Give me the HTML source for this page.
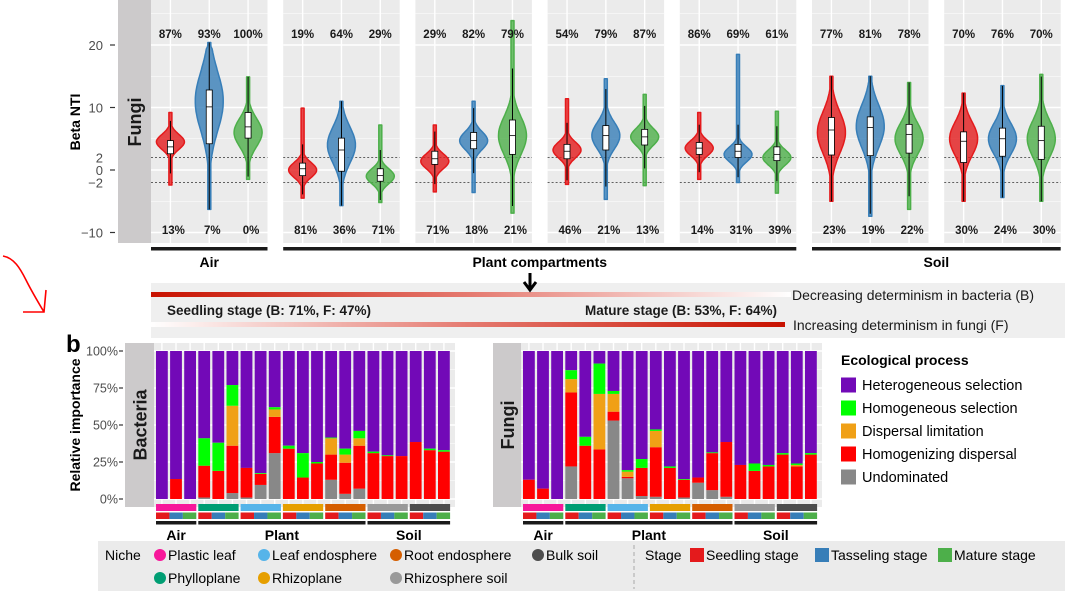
<!DOCTYPE html>
<html><head><meta charset="utf-8"><style>
html,body{margin:0;padding:0;background:#fff;}
svg{display:block;font-family:"Liberation Sans",Arial,sans-serif;}
</style></head><body>
<svg id="fig" width="1080" height="599" viewBox="0 0 1080 599" xmlns="http://www.w3.org/2000/svg">
<defs>
<linearGradient id="gDec" x1="0" x2="1" y1="0" y2="0"><stop offset="0" stop-color="#c81200"/><stop offset="0.5" stop-color="#e57a70"/><stop offset="1" stop-color="#ffffff"/></linearGradient>
<linearGradient id="gInc" x1="0" x2="1" y1="0" y2="0"><stop offset="0" stop-color="#ffffff"/><stop offset="0.5" stop-color="#e57a70"/><stop offset="1" stop-color="#c81200"/></linearGradient>
</defs>
</svg>
<script>
// ---------- Data: panel a (violins, Beta NTI) ----------
const vMin  = [-2.4,-6.3,-1.5, -4.5,-5.7,-5.2, -3.5,-3.6,-6.9, -2.3,-4.7,-2.5, -1.5,-2,-3.7, -5,-7.4,-6.3, -5,-4.4,-5];
const vMax  = [9.2,20.4,14.9, 9.9,11,7.2, 7.2,11,23.9, 11.4,14.6,12.1, 9.2,18.5,9.4, 15,15,14, 12.3,13.5,15.3];
const vQ1   = [2.6,4.2,5.1, -0.9,-0.2,-1.8, 0.9,3.4,2.5, 1.8,3.2,4, 2.5,2,1.5, 2.4,2.3,2.7, 1.2,2.2,1.7];
const vMed  = [3.7,10.1,6.9, 0.2,3.2,-0.9, 1.8,4.7,5.5, 3,5.5,5.3, 3.5,3,2.5, 6.4,6.8,5.7, 4.6,5,4.7];
const vQ3   = [4.7,12.8,9.2, 1.1,5.1,0.2, 3,6,8, 4.1,7.1,6.5, 4.4,4.1,3.7, 8.4,8.5,7.3, 6.1,6.7,7];
const vPeak = [4.5,11,6, 0,4,-1, 1.4,4.7,5.5, 3.2,5.5,5.3, 3.5,2.5,2, 6,7,5, 5,5,5];
const topPct = ["87%","93%","100%","19%","64%","29%","29%","82%","79%","54%","79%","87%","86%","69%","61%","77%","81%","78%","70%","76%","70%"];
const botPct = ["13%","7%","0%","81%","36%","71%","71%","18%","21%","46%","21%","13%","14%","31%","39%","23%","19%","22%","30%","24%","30%"];
const yTicksA = [20,10,2,0,-2,-10];
const yTickLabelsA = ["20","10","2","0","\u22122","\u221210"];

// ---------- Data: panel b (stacked bars, %) ----------
const processes = ["Heterogeneous selection","Homogeneous selection","Dispersal limitation","Homogenizing dispersal","Undominated"];
const bactGray   = [0,0,0, 1,0,4, 1,9.5,31, 0,0,0, 13,3.5,7, 0,0,0, 0,0,0];
const bactRed    = [0,13.5,0, 21.5,19,32, 20,7.5,24.5, 34,14.5,24, 17,21,29, 31,29,29, 38.5,33,32];
const bactOrange = [0,0,0, 0,0,27, 0,0,5, 0,0,0, 11,5.5,5, 0,0,0, 0,0,0];
const bactGreen  = [0,0,0, 18.5,19,14, 0,0.5,1.5, 2,16.5,1, 0.5,4,5, 1,0.5,0, 0,1,1];
const fungGray   = [0,0,0, 22,0,0, 53,14,2, 1.5,0,1, 11,6,1.5, 0,0,0, 0,0,0];
const fungRed    = [13,7,0, 50,36,33.5, 6,1,19, 33.5,21,12, 3.5,25,37, 23,19,22, 30,22,30];
const fungOrange = [0,0,0, 9,0,37.5, 12,3.5,0, 11,0,0, 0,0,0, 0,0,0, 0,1,0];
const fungGreen  = [0,0,0, 6,6,20.5, 2,1,6, 1,1,0.5, 0,0.5,0, 0,5,1, 1,1,1];
const yTicksB = [0,25,50,75,100];
const yTickLabelsB = ["0%","25%","50%","75%","100%"];
const niches = ["Plastic leaf","Phylloplane","Leaf endosphere","Rhizoplane","Root endosphere","Rhizosphere soil","Bulk soil"];
const stages = ["Seedling stage","Tasseling stage","Mature stage"];

const NS="http://www.w3.org/2000/svg";
const svg=document.getElementById('fig');
function mk(tag,attrs,parent){const e=document.createElementNS(NS,tag);for(const k in attrs)e.setAttribute(k,attrs[k]);(parent||svg).appendChild(e);return e;}
function tx(str,attrs,parent){const e=mk('text',attrs,parent);e.textContent=str;return e;}

const stageCol=["#e41a1c","#377eb8","#4daf4a"];
const nicheCol=["#f7179a","#009e73","#56b4e9","#e69f00","#d55e00","#999999","#4d4d4d"];
const procCol=["#7209b7","#00ff00","#f0a016","#ff0000","#888888"];

// ================= PANEL A =================
const gA=mk('g',{});


const yA=v=>170-v*6.25;
const PH=243;
const pW=116.5, pStep=132.2, p0=151;
const stripA=mk('rect',{x:118,y:0,width:33,height:PH,fill:'#cccacb'},gA);


const stripAT=tx('Fungi',{x:0,y:0,transform:'translate(141,122) rotate(-90)','text-anchor':'middle','font-size':18,'font-weight':'bold',fill:'#1a1a1a'},gA);


for(let i=0;i<yTicksA.length;i++){
  const y=yA(yTicksA[i]);
  const t=tx(yTickLabelsA[i],{x:103,y:y+5,'text-anchor':'end','font-size':13,fill:'#4d4d4d'},gA);
  
  
  if(yTicksA[i]%10===0){mk('line',{x1:110,x2:115,y1:y,y2:y,stroke:'#333','stroke-width':1.2},gA);}
}
const yTitleA=tx('Beta NTI',{x:0,y:0,transform:'translate(80,122) rotate(-90)','text-anchor':'middle','font-size':14,'font-weight':'bold',fill:'#000'},gA);



for(let p=0;p<7;p++){
  const px=p0+p*pStep;
  const pg=mk('g',{},gA);
  
  
  mk('rect',{x:px,y:0,width:pW,height:PH,fill:'#ebebeb'},pg);
  for(let v=-10;v<=25;v+=5){
    const y=yA(v); if(y<0||y>PH) continue;
    mk('line',{x1:px,x2:px+pW,y1:y,y2:y,stroke:'#fff','stroke-width':v%10===0?1.4:0.6},pg);
  }
  for(let k=0;k<3;k++){
    const cx=px+(k+0.5)*pW/3;
    mk('line',{x1:cx,x2:cx,y1:0,y2:PH,stroke:'#fff','stroke-width':1.4},pg);
  }
  mk('line',{x1:px,x2:px+pW,y1:yA(2),y2:yA(2),stroke:'#333','stroke-width':0.8,'stroke-dasharray':'2,2'},pg);
  mk('line',{x1:px,x2:px+pW,y1:yA(-2),y2:yA(-2),stroke:'#333','stroke-width':0.8,'stroke-dasharray':'2,2'},pg);
  for(let k=0;k<3;k++){
    const i=p*3+k, cx=px+(k+0.5)*pW/3;
    const iqr=vQ3[i]-vQ1[i], s=Math.max(iqr*0.55,1.2);
    const W=14;
    const N=80, pts=[];
    const wAt=v=>{
      let w=W*Math.exp(-0.5*Math.pow((v-vPeak[i])/s,2));
      const d=Math.min(v-vMin[i],vMax[i]-v);
      w*=Math.min(1,d/1.2+0.15);
      return Math.max(1.5,w);
    };
    for(let j=0;j<=N;j++){const v=vMin[i]+(vMax[i]-vMin[i])*j/N;pts.push([cx+wAt(v),yA(v)]);}
    for(let j=N;j>=0;j--){const v=vMin[i]+(vMax[i]-vMin[i])*j/N;pts.push([cx-wAt(v),yA(v)]);}
    const vio=mk('path',{d:'M'+pts.map(q=>q[0].toFixed(1)+','+q[1].toFixed(1)).join('L')+'Z',fill:stageCol[k],'fill-opacity':0.8,stroke:stageCol[k],'stroke-width':1.5,'stroke-linejoin':'round'},pg);
    
    
    const wLo=Math.max(vMin[i],vQ1[i]-1.5*iqr), wHi=Math.min(vMax[i],vQ3[i]+1.5*iqr);
    mk('line',{x1:cx,x2:cx,y1:yA(wHi),y2:yA(wLo),stroke:'#000','stroke-width':1},pg);
    const box=mk('rect',{x:cx-3,y:yA(vQ3[i]),width:6,height:yA(vQ1[i])-yA(vQ3[i]),fill:'#fff',stroke:'#000','stroke-width':0.8},pg);
    
    
    mk('line',{x1:cx-3,x2:cx+3,y1:yA(vMed[i]),y2:yA(vMed[i]),stroke:'#000','stroke-width':0.8},pg);
    const t1=tx(topPct[i],{x:cx,y:38,'text-anchor':'middle','font-size':11.5,'font-weight':'bold',fill:'#1a1a1a'},pg);
    
    
    const t2=tx(botPct[i],{x:cx+3,y:234,'text-anchor':'middle','font-size':11.5,'font-weight':'bold',fill:'#1a1a1a'},pg);
    
    
  }
}
const grpA=[["Air",0,0],["Plant compartments",1,4],["Soil",5,6]];
grpA.forEach(g=>{
  const x1=p0+g[1]*pStep, x2=p0+g[2]*pStep+pW;
  const b=mk('rect',{x:x1,y:247,width:x2-x1,height:3.5,fill:'#1a1a1a'},gA);
  
  
  const t=tx(g[0],{x:(x1+x2)/2,y:267,'text-anchor':'middle','font-size':14,'font-weight':'bold',fill:'#000'},gA);
  
  
});

// ================= MIDDLE BAND =================
const band=mk('g',{});


mk('rect',{x:151,y:283,width:914,height:55,fill:'#efefef'},band);
mk('rect',{x:151,y:292,width:640,height:5,fill:'url(#gDec)'},band);
mk('rect',{x:151,y:322,width:634,height:5,fill:'url(#gInc)'},band);
const s1=tx('Seedling stage (B: 71%, F: 47%)',{x:167,y:315,'font-size':13.5,'font-weight':'bold',fill:'#1a1a1a'},band);


const s2=tx('Mature stage (B: 53%, F: 64%)',{x:777,y:315,'text-anchor':'end','font-size':13.5,'font-weight':'bold',fill:'#1a1a1a'},band);


const s3=tx('Decreasing determinism in bacteria (B)',{x:792,y:300,'font-size':14,fill:'#1a1a1a'},band);


const s4=tx('Increasing determinism in fungi (F)',{x:793,y:330,'font-size':14,fill:'#1a1a1a'},band);


const arr=mk('path',{d:'M530,273 L530,288 M524,282 L530,290 L536,282',stroke:'#000','stroke-width':3,fill:'none'},band);


const redArr=mk('path',{d:'M3,256 C14,258 20,268 26,280 C32,292 38,302 44,312 M23,312 L44,312 L46,290',stroke:'#ff0000','stroke-width':1.6,fill:'none'});


const lb=tx('b',{x:66,y:352,'font-size':24,'font-weight':'bold',fill:'#000'});



// ================= PANEL B =================
const yB=p=>499-p*1.48;
const slot=14.1, barW=11.8;
function barChart(name,stripX,panelX,panelW,gray,red,orange,green,showAxis){
  const g=mk('g',{});
  
  
  const st=mk('rect',{x:stripX,y:343,width:panelX-stripX,height:164,fill:'#cccacb'},g);
  
  
  const stt=tx(name,{x:0,y:0,transform:'translate('+(stripX+(panelX-stripX)/2+7)+',425) rotate(-90)','text-anchor':'middle','font-size':18,'font-weight':'bold',fill:'#1a1a1a'},g);
  
  
  mk('rect',{x:panelX,y:343,width:panelW,height:164,fill:'#ebebeb'},g);
  for(let v=0;v<=100;v+=12.5) mk('line',{x1:panelX,x2:panelX+panelW,y1:yB(v),y2:yB(v),stroke:'#fff','stroke-width':v%25===0?1.4:0.6},g);
  const b0=panelX+2;
  for(let i=0;i<21;i++){
    const x=b0+i*slot, cx=x+barW/2;
    mk('line',{x1:cx,x2:cx,y1:343,y2:507,stroke:'#fff','stroke-width':1.4},g);
  }
  if(showAxis){
    for(let k=0;k<yTicksB.length;k++){
      const y=yB(yTicksB[k]);
      const t=tx(yTickLabelsB[k],{x:118,y:y+4.5,'text-anchor':'end','font-size':12.5,fill:'#4d4d4d'},g);
      
      
      mk('line',{x1:119,x2:123,y1:y,y2:y,stroke:'#333','stroke-width':1.2},g);
    }
    const yt=tx('Relative importance',{x:0,y:0,transform:'translate(80,425) rotate(-90)','text-anchor':'middle','font-size':14,'font-weight':'bold',fill:'#000'},g);
    
    
  }
  for(let i=0;i<21;i++){
    const x=b0+i*slot;
    const segs=[gray[i],red[i],orange[i],green[i]];
    const cols=[procCol[4],procCol[3],procCol[2],procCol[1]];
    const bg=mk('g',{},g);
    
    
    let cum=0;
    const total=segs.reduce((a,b)=>a+b,0);
    const pr=mk('rect',{x:x,y:yB(100),width:barW,height:yB(total)-yB(100),fill:procCol[0]},bg);
    
    
    for(let s=0;s<4;s++){
      if(segs[s]<=0){continue;}
      const r=mk('rect',{x:x,y:yB(cum+segs[s]),width:barW,height:yB(cum)-yB(cum+segs[s]),fill:cols[s]},bg);
      
      
      cum+=segs[s];
    }
  }
  for(let n=0;n<7;n++){
    const x=b0+n*3*slot;
    const w=3*slot-2;
    const nr=mk('rect',{x:x,y:504,width:w,height:7,fill:nicheCol[n]},g);
    
    
    for(let s=0;s<3;s++){
      const sr=mk('rect',{x:x+s*w/3,y:512.5,width:w/3,height:6.5,fill:stageCol[s]},g);
      
      
    }
  }
  const grp=[["Air",0,0],["Plant",1,4],["Soil",5,6]];
  grp.forEach(q=>{
    const x1=b0+q[1]*3*slot, x2=b0+(q[2]+1)*3*slot-2;
    const r=mk('rect',{x:x1,y:521,width:x2-x1,height:3.5,fill:'#1a1a1a'},g);
    
    
    const t=tx(q[0],{x:(x1+x2)/2,y:540,'text-anchor':'middle','font-size':14,'font-weight':'bold',fill:'#000'},g);
    
    
  });
}
barChart('Bacteria',125,154,301,bactGray,bactRed,bactOrange,bactGreen,true);
barChart('Fungi',493,521,301,fungGray,fungRed,fungOrange,fungGreen,false);

const lg=mk('g',{});


const lgT=tx('Ecological process',{x:841,y:365,'font-size':14,'font-weight':'bold',fill:'#000'},lg);


for(let k=0;k<processes.length;k++){
  const y=385+k*23;
  const it=mk('g',{},lg);
  
  
  mk('rect',{x:841,y:y-7.5,width:15,height:15,fill:procCol[k]},it);
  tx(processes[k],{x:862,y:y+5,'font-size':14.5,fill:'#000'},it);
}

const bl=mk('g',{});


mk('rect',{x:98,y:541,width:967,height:50,fill:'#ebebeb'},bl);
tx('Niche',{x:105,y:560,'font-size':14,fill:'#000'},bl);
const colX=[160,264,396,538];
const nicheOrder=[0,2,4,6,1,3,5];
for(let j=0;j<7;j++){
  const n=nicheOrder[j];
  const row=j<4?0:1, col=j<4?j:j-4;
  const cy=555+row*23, cx=colX[col];
  const it=mk('g',{},bl);
  
  
  mk('circle',{cx:cx,cy:cy,r:6,fill:nicheCol[n]},it);
  tx(niches[n],{x:cx+8,y:cy+5,'font-size':14,fill:'#000'},it);
}
mk('line',{x1:634,x2:634,y1:545,y2:589,stroke:'#aaa','stroke-width':1,'stroke-dasharray':'4,3'},bl);
tx('Stage',{x:645,y:560,'font-size':14,fill:'#000'},bl);
const stX=[690,815,938];
for(let s=0;s<3;s++){
  const it=mk('g',{},bl);
  
  
  mk('rect',{x:stX[s],y:548,width:14,height:14,fill:stageCol[s]},it);
  tx(stages[s],{x:stX[s]+16,y:560,'font-size':14,fill:'#000'},it);
}
</script>
</body></html>
